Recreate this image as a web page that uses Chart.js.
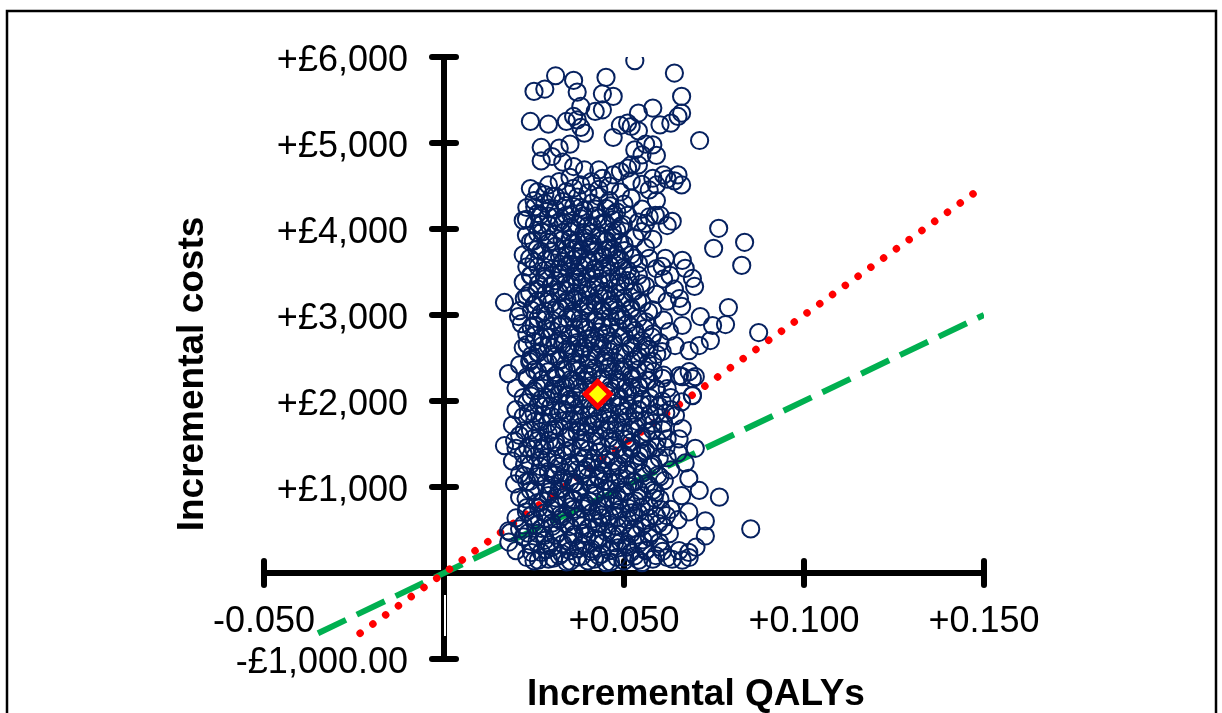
<!DOCTYPE html>
<html>
<head>
<meta charset="utf-8">
<title>Cost-effectiveness plane</title>
<script src="https://cdn.jsdelivr.net/npm/chart.js@4/dist/chart.umd.min.js"></script>
<style>
  html, body { margin: 0; padding: 0; background: #ffffff; }
  #wrap { width: 1222px; height: 713px; position: relative; }
  canvas { display: block; }
</style>
</head>
<body>
<div id="wrap"><canvas id="plane" width="1222" height="713"></canvas></div>
<script>
// Probabilistic sensitivity analysis draws: [incremental QALYs, incremental cost (£)]
const psaSamples = [
  // upper, sparse part of the cloud
  [0.053,5957],[0.064,5813],[0.031,5782],[0.045,5763],[0.036,5728],[0.025,5600],[0.028,5627],[0.037,5592],
  [0.044,5572],[0.066,5542],[0.047,5542],[0.038,5425],[0.042,5367],[0.044,5386],[0.058,5406],[0.054,5348],
  [0.066,5348],[0.065,5309],[0.024,5251],[0.029,5219],[0.034,5251],[0.036,5309],[0.037,5269],[0.038,5181],
  [0.039,5114],[0.049,5204],[0.051,5231],[0.052,5192],[0.054,5141],[0.060,5211],[0.063,5231],[0.047,5064],
  [0.071,5029],[0.027,4948],[0.032,4940],[0.035,4986],[0.053,4920],[0.056,4986],[0.058,4978],[0.055,4862],
  [0.059,4855],[0.027,4792],[0.030,4843],[0.033,4777],[0.036,4726],[0.039,4687],[0.043,4687],[0.052,4745],
  [0.049,4668],
  // £4,400 – £4,750
  [0.026,4435],[0.029,4512],[0.032,4552],[0.034,4435],[0.036,4474],[0.038,4512],[0.041,4552],[0.044,4590],
  [0.047,4629],[0.051,4707],[0.054,4745],[0.058,4590],[0.061,4629],[0.065,4629],[0.066,4512],[0.059,4512],
  [0.057,4454],[0.024,4470],[0.028,4400],[0.031,4380],[0.040,4420],[0.043,4460],[0.046,4500],[0.049,4430],
  [0.052,4560],[0.055,4520],[0.035,4600],[0.062,4580],[0.064,4560],
  // £4,000 – £4,400
  [0.022,4100],[0.023,4250],[0.025,4330],[0.026,4180],[0.027,4050],[0.028,4300],[0.029,4150],[0.030,4380],
  [0.031,4230],[0.032,4080],[0.033,4320],[0.034,4160],[0.035,4020],[0.036,4260],[0.037,4370],[0.038,4120],
  [0.039,4220],[0.040,4040],[0.041,4300],[0.042,4150],[0.043,4380],[0.044,4070],[0.045,4240],[0.046,4330],
  [0.047,4110],[0.048,4200],[0.049,4030],[0.050,4290],[0.051,4160],[0.052,4360],[0.054,4080],[0.055,4230],
  [0.057,4140],[0.059,4330],[0.060,4160],[0.062,4040],[0.0587,4160],[0.0634,4090],[0.056,4066],[0.055,3970],
  // £3,500 – £4,000
  [0.0229,4113],[0.0229,3926],[0.0763,4008],[0.0835,3845],[0.0749,3775],[0.0827,3577],[0.0662,3635],[0.067,3542],
  [0.0615,3658],[0.0606,3565],[0.0628,3460],
  [0.022,3700],[0.023,3560],[0.024,3850],[0.025,3620],[0.026,3950],[0.027,3740],[0.028,3520],[0.029,3880],
  [0.030,3660],[0.031,3800],[0.032,3540],[0.033,3960],[0.034,3700],[0.035,3590],[0.036,3840],[0.037,3500],
  [0.038,3760],[0.039,3900],[0.040,3640],[0.041,3800],[0.042,3540],[0.043,3920],[0.044,3700],[0.045,3860],
  [0.046,3580],[0.047,3760],[0.048,3980],[0.049,3640],[0.050,3820],[0.051,3520],[0.052,3700],[0.053,3900],
  [0.054,3600],[0.056,3780],[0.057,3660],[0.058,3880],[0.059,3540],
  [0.033,3620],[0.035,3880],[0.037,3680],[0.039,3580],[0.041,3950],[0.043,3620],[0.045,3760],[0.047,3900],
  [0.036,3760],[0.040,3850],[0.044,3540],[0.048,3700],
  // £3,000 – £3,500
  [0.0168,3146],[0.0223,3192],[0.0654,3192],[0.069,3425],[0.0696,3332],[0.079,3087],[0.0712,2982],
  [0.021,3050],[0.022,3380],[0.023,3220],[0.024,3460],[0.025,3120],[0.026,3300],[0.027,3020],[0.028,3420],
  [0.029,3180],[0.030,3340],[0.031,3060],[0.032,3260],[0.033,3480],[0.034,3140],[0.035,3360],[0.036,3020],
  [0.037,3220],[0.038,3440],[0.039,3100],[0.040,3300],[0.041,3480],[0.042,3160],[0.043,3380],[0.044,3040],
  [0.045,3240],[0.046,3420],[0.047,3120],[0.048,3320],[0.049,3000],[0.050,3200],[0.051,3400],[0.052,3080],
  [0.053,3280],[0.054,3460],[0.055,3140],[0.056,3340],[0.058,3060],[0.059,3240],[0.061,3420],[0.062,3160],
  [0.064,3300],[0.066,3100],
  [0.031,3400],[0.034,3280],[0.037,3380],[0.040,3120],[0.043,3240],[0.046,3100],[0.049,3380],[0.036,3180],
  // £2,500 – £3,000
  [0.0207,2982],[0.0215,2900],[0.025,2690],[0.0243,2528],[0.0782,2889],[0.0746,2878],[0.0874,2796],[0.074,2703],
  [0.0709,2645],[0.0681,2586],[0.0626,2808],[0.0642,2645],[0.0606,2575],[0.0662,2878],
  [0.022,2620],[0.023,2780],[0.025,2880],[0.026,2560],[0.027,2740],[0.028,2940],[0.029,2640],[0.030,2820],
  [0.031,2520],[0.032,2700],[0.033,2900],[0.034,2600],[0.035,2780],[0.036,2960],[0.037,2680],[0.038,2540],
  [0.039,2860],[0.040,2720],[0.041,2580],[0.042,2940],[0.043,2800],[0.044,2640],[0.045,2520],[0.046,2860],
  [0.047,2700],[0.048,2980],[0.049,2560],[0.050,2760],[0.051,2900],[0.052,2620],[0.053,2820],[0.054,2520],
  [0.055,2700],[0.056,2920],[0.057,2600],[0.058,2780],[0.060,2680],[0.061,2940],
  [0.033,2660],[0.036,2560],[0.039,2620],[0.042,2700],[0.045,2780],[0.038,2900],[0.044,2920],
  // £2,000 – £2,500
  [0.0179,2318],[0.0681,2341],[0.0662,2283],[0.0698,2283],[0.069,2260],[0.0654,2295],[0.069,2062],[0.062,2143],
  [0.020,2150],[0.021,2420],[0.022,2040],[0.023,2280],[0.024,2480],[0.025,2120],[0.026,2340],[0.027,2020],
  [0.028,2200],[0.029,2440],[0.030,2080],[0.031,2300],[0.032,2480],[0.033,2160],[0.034,2360],[0.035,2020],
  [0.036,2240],[0.037,2420],[0.038,2100],[0.039,2320],[0.040,2480],[0.041,2180],[0.042,2380],[0.043,2020],
  [0.044,2260],[0.045,2440],[0.046,2120],[0.047,2340],[0.048,2040],[0.049,2220],[0.050,2400],[0.051,2100],
  [0.052,2300],[0.053,2480],[0.054,2180],[0.055,2020],[0.056,2360],[0.057,2240],[0.058,2460],[0.059,2140],
  [0.061,2300],[0.063,2040],
  [0.031,2180],[0.034,2060],[0.037,2200],[0.040,2300],[0.046,2400],[0.049,2360],[0.052,2160],
  // £1,500 – £2,000
  [0.0168,1480],[0.0196,1538],[0.066,1990],[0.069,2065],
  [0.019,1720],[0.020,1900],[0.021,1600],[0.022,1820],[0.023,1980],[0.024,1660],[0.025,1860],[0.026,1540],
  [0.027,1760],[0.028,1940],[0.029,1620],[0.030,1820],[0.031,1520],[0.032,1700],[0.033,1900],[0.034,1580],
  [0.035,1780],[0.036,1960],[0.037,1640],[0.038,1840],[0.039,1520],[0.040,1720],[0.041,1920],[0.042,1600],
  [0.043,1800],[0.044,1980],[0.045,1660],[0.046,1860],[0.047,1540],[0.048,1740],[0.049,1940],[0.050,1620],
  [0.051,1820],[0.052,1520],[0.053,1700],[0.054,1900],[0.055,1580],[0.056,1780],[0.057,1960],[0.058,1660],
  [0.059,1860],[0.061,1740],[0.062,1560],[0.063,1900],
  [0.0606,2000],[0.0643,1830],[0.0662,1680],[0.0698,1450],[0.0653,1560],
  [0.030,1660],[0.034,1860],[0.038,1700],[0.042,1760],[0.046,1720],[0.050,1880],
  // £1,000 – £1,500
  [0.0196,1037],[0.0223,1130],
  [0.019,1300],[0.020,1450],[0.021,1150],[0.022,1380],[0.023,1060],[0.024,1260],[0.025,1440],[0.026,1120],
  [0.027,1320],[0.028,1480],[0.029,1180],[0.030,1020],[0.031,1360],[0.032,1240],[0.033,1100],[0.034,1420],
  [0.035,1280],[0.036,1040],[0.037,1200],[0.038,1460],[0.039,1340],[0.040,1120],[0.041,1280],[0.042,1020],
  [0.043,1400],[0.044,1180],[0.045,1320],[0.046,1060],[0.047,1480],[0.048,1240],[0.049,1100],[0.050,1380],
  [0.051,1200],[0.052,1440],[0.053,1060],[0.054,1300],[0.055,1160],[0.056,1420],[0.057,1020],[0.058,1260],
  [0.059,1460],[0.060,1120],[0.062,1340],[0.063,1200],[0.065,1400],[0.067,1280],[0.068,1100],
  [0.031,1140],[0.035,1060],[0.039,1200],[0.043,1100],[0.047,1300],[0.051,1020],[0.055,1400],
  // £500 – £1,000
  [0.0179,489],[0.021,513],[0.0229,711],
  [0.020,640],[0.021,880],[0.022,560],[0.023,760],[0.024,960],[0.025,620],[0.026,820],[0.027,520],
  [0.028,700],[0.029,900],[0.030,580],[0.031,780],[0.032,980],[0.033,660],[0.034,860],[0.035,540],
  [0.036,740],[0.037,940],[0.038,620],[0.039,820],[0.040,520],[0.041,700],[0.042,900],[0.043,580],
  [0.044,780],[0.045,980],[0.046,660],[0.047,860],[0.048,540],[0.049,740],[0.050,940],[0.051,620],
  [0.052,820],[0.053,520],[0.054,700],[0.055,900],[0.056,580],[0.057,780],[0.058,960],[0.059,660],
  [0.060,860],[0.061,540],[0.063,740],[0.065,620],[0.066,900],[0.068,710],[0.0709,960],[0.0726,606],
  [0.0765,882],[0.0852,513],
  [0.032,620],[0.036,860],[0.040,780],[0.044,640],[0.048,900],[0.052,700],
  // £100 – £500
  [0.018,360],[0.0184,470],[0.020,260],[0.022,420],[0.023,180],[0.024,330],[0.025,140],[0.026,460],
  [0.027,240],[0.028,380],[0.029,160],[0.030,300],[0.031,440],[0.032,200],[0.033,340],[0.034,130],
  [0.035,260],[0.036,420],[0.037,180],[0.038,320],[0.039,460],[0.040,140],[0.041,280],[0.042,400],
  [0.043,200],[0.044,340],[0.045,120],[0.046,260],[0.047,440],[0.048,180],[0.049,360],[0.050,140],
  [0.051,300],[0.052,460],[0.053,200],[0.054,340],[0.055,120],[0.056,260],[0.057,420],[0.058,160],
  [0.060,300],[0.062,180],[0.0634,160],[0.0653,260],[0.0662,150],[0.068,240],[0.0681,180],[0.070,300],
  [0.0726,430],
  // dense core of the cloud
  [0.0262,150],[0.0304,172],[0.0351,138],[0.0383,194],[0.0418,161],[0.0463,128],[0.0502,183],[0.0541,149],[0.0588,203],
  [0.0243,238],[0.0284,271],[0.0327,226],[0.0372,282],[0.0409,249],[0.0438,218],[0.0483,292],[0.0519,238],[0.0562,268],[0.0607,252],
  [0.0258,362],[0.0293,328],[0.0345,374],[0.0388,338],[0.0428,381],[0.0474,352],[0.0507,326],[0.0553,384],[0.0598,357],
  [0.0233,463],[0.0279,437],[0.0318,472],[0.0362,448],[0.0397,429],[0.0452,474],[0.0486,446],[0.0534,441],[0.0578,468],[0.0626,457],
  [0.0254,557],[0.0301,543],[0.0338,574],[0.0384,548],[0.0423,531],[0.0458,566],[0.0497,561],[0.0549,538],[0.0596,573],
  [0.0241,664],[0.0283,638],[0.0322,672],[0.0368,651],[0.0414,628],[0.0437,673],[0.0482,649],[0.0528,662],[0.0571,637],[0.0618,668],
  [0.0263,756],[0.0298,743],[0.0353,772],[0.0386,748],[0.0427,729],[0.0472,774],[0.0513,753],[0.0548,761],[0.0603,738],
  [0.0228,863],[0.0274,838],[0.0312,872],[0.0357,847],[0.0404,833],[0.0449,868],[0.0487,852],[0.0532,839],[0.0584,871],
  [0.0252,958],[0.0293,943],[0.0328,973],[0.0378,951],[0.0419,927],[0.0463,968],[0.0504,953],[0.0541,962],[0.0587,938],
  [0.0238,1063],[0.0281,1037],[0.0323,1072],[0.0364,1048],[0.0406,1034],[0.0443,1068],[0.0478,1052],[0.0524,1061],[0.0563,1038],[0.0612,1073],
  [0.0261,1158],[0.0302,1143],[0.0337,1167],[0.0384,1153],[0.0428,1128],[0.0467,1172],[0.0508,1147],[0.0552,1161],[0.0594,1139],
  [0.0224,1262],[0.0268,1238],[0.0314,1273],[0.0352,1247],[0.0398,1232],[0.0442,1268],[0.0486,1252],[0.0527,1263],[0.0574,1241],
  [0.0253,1357],[0.0287,1342],[0.0332,1368],[0.0374,1352],[0.0417,1327],[0.0462,1373],[0.0503,1348],[0.0543,1362],[0.0598,1337],
  [0.0232,1458],[0.0273,1443],[0.0311,1472],[0.0356,1447],[0.0402,1433],[0.0437,1468],[0.0483,1452],[0.0522,1461],[0.0568,1438],[0.0617,1462],
  [0.0248,1563],[0.0292,1538],[0.0339,1571],[0.0381,1552],[0.0423,1528],[0.0458,1567],[0.0507,1553],[0.0549,1558],[0.0592,1542],
  [0.0223,1657],[0.0267,1643],[0.0308,1672],[0.0352,1648],[0.0393,1633],[0.0437,1668],[0.0476,1652],[0.0518,1663],[0.0563,1638],[0.0608,1661],
  [0.0252,1762],[0.0288,1737],[0.0331,1768],[0.0373,1753],[0.0412,1728],[0.0458,1772],[0.0497,1748],[0.0537,1762],[0.0581,1743],
  [0.0234,1857],[0.0276,1843],[0.0318,1873],[0.0362,1848],[0.0403,1832],[0.0441,1867],[0.0488,1853],[0.0529,1858],[0.0572,1842],[0.0616,1862],
  [0.0263,1962],[0.0297,1938],[0.0342,1968],[0.0383,1953],[0.0421,1927],[0.0468,1973],[0.0511,1948],[0.0548,1962],[0.0597,1941],
  [0.0242,2058],[0.0284,2043],[0.0321,2072],[0.0363,2047],[0.0398,2033],[0.0452,2068],[0.0487,2052],[0.0528,2063],[0.0572,2038],
  [0.0258,2163],[0.0302,2137],[0.0338,2168],[0.0377,2152],[0.0418,2128],[0.0463,2171],[0.0503,2148],[0.0542,2162],[0.0588,2143],
  [0.0232,2257],[0.0271,2243],[0.0313,2272],[0.0351,2248],[0.0392,2233],[0.0438,2268],[0.0481,2253],[0.0522,2258],[0.0563,2242],[0.0607,2263],
  [0.0251,2362],[0.0289,2338],[0.0332,2368],[0.0372,2352],[0.0413,2327],[0.0454,2373],[0.0498,2348],[0.0538,2362],[0.0582,2341],
  [0.0238,2458],[0.0281,2443],[0.0322,2472],[0.0358,2447],[0.0401,2433],[0.0443,2468],[0.0478,2452],[0.0521,2463],[0.0566,2438],
  [0.0262,2563],[0.0299,2537],[0.0343,2568],[0.0381,2552],[0.0423,2532],[0.0461,2571],[0.0502,2548],[0.0547,2562],[0.0591,2543],
  [0.0231,2657],[0.0273,2643],[0.0308,2672],[0.0352,2648],[0.0388,2628],[0.0432,2668],[0.0471,2653],[0.0518,2661],[0.0562,2638],
  [0.0253,2762],[0.0292,2738],[0.0331,2768],[0.0371,2753],[0.0409,2728],[0.0453,2772],[0.0492,2747],[0.0533,2763],[0.0578,2742],
  [0.0242,2858],[0.0283,2843],[0.0319,2872],[0.0362,2848],[0.0398,2833],[0.0441,2867],[0.0483,2852],[0.0521,2858],[0.0558,2841],
  [0.0261,2963],[0.0302,2937],[0.0341,2968],[0.0378,2952],[0.0422,2928],[0.0461,2971],[0.0498,2948],[0.0539,2962],
  [0.0243,3058],[0.0281,3043],[0.0323,3072],[0.0359,3047],[0.0402,3032],[0.0438,3068],[0.0482,3053],[0.0518,3061],[0.0568,3038],
  [0.0259,3162],[0.0298,3138],[0.0342,3168],[0.0379,3152],[0.0419,3127],[0.0462,3172],[0.0503,3148],[0.0538,3163],
  [0.0238,3257],[0.0282,3243],[0.0318,3273],[0.0361,3248],[0.0397,3232],[0.0443,3268],[0.0478,3252],[0.0523,3262],
  [0.0262,3363],[0.0297,3338],[0.0338,3368],[0.0382,3353],[0.0421,3328],[0.0458,3372],[0.0502,3348],[0.0548,3361],
  [0.0242,3458],[0.0279,3443],[0.0322,3472],[0.0363,3447],[0.0398,3432],[0.0441,3468],[0.0483,3453],[0.0518,3458],
  [0.0261,3562],[0.0302,3538],[0.0339,3568],[0.0378,3553],[0.0418,3528],[0.0462,3571],[0.0497,3548],
  [0.0238,3658],[0.0283,3643],[0.0321,3672],[0.0358,3648],[0.0402,3628],[0.0443,3668],[0.0481,3652],[0.0528,3663],
  [0.0258,3762],[0.0298,3738],[0.0341,3768],[0.0382,3753],[0.0418,3732],[0.0461,3772],[0.0502,3748],
  [0.0248,3858],[0.0291,3842],[0.0328,3872],[0.0372,3847],[0.0412,3833],[0.0452,3868],[0.0489,3852],
  [0.0272,3963],[0.0308,3938],[0.0352,3968],[0.0388,3952],[0.0431,3928],[0.0468,3971],
  [0.0251,4058],[0.0292,4043],[0.0331,4072],[0.0369,4047],[0.0412,4032],[0.0448,4068],[0.0498,4052],
  [0.0268,4162],[0.0311,4138],[0.0352,4168],[0.0388,4152],[0.0428,4128],[0.0472,4171],
  [0.0252,4258],[0.0293,4242],[0.0338,4272],[0.0378,4248],[0.0421,4232],[0.0462,4268]
];

// Mean incremental QALYs and cost
const meanPoint = [0.0427, 2080];

// Willingness-to-pay threshold lines (£20,000 and £30,000 per QALY), end points
const wtp20kLine = [[-0.035, -700], [0.15, 3000]];
const wtp30kLine = [[-0.0233, -700], [0.15, 4500]];

// Axis ticks and their labels
const xTickValues = [-0.05, 0.05, 0.10, 0.15];
const xTickLabels = ['-0.050', '+0.050', '+0.100', '+0.150'];
const yTickValues = [-1000, 1000, 2000, 3000, 4000, 5000, 6000];
const yTickLabels = ['-£1,000.00', '+£1,000', '+£2,000', '+£3,000', '+£4,000', '+£5,000', '+£6,000'];
const yMarkValues = [-1000, 0, 1000, 2000, 3000, 4000, 5000, 6000];
const xMarkValues = [-0.05, 0, 0.05, 0.10, 0.15];

const xTitle = 'Incremental QALYs';
const yTitle = 'Incremental costs';

const FONT = "'Liberation Sans', Arial, Helvetica, sans-serif";

const toXY = pairs => pairs.map(p => ({ x: p[0], y: p[1] }));

// Cross-hair axes through the origin, frame, tick labels and titles
const planeAxes = {
  id: 'planeAxes',
  beforeDatasetsDraw(chart) {
    const ctx = chart.ctx;
    const xs = chart.scales.x, ys = chart.scales.y;
    const x0 = xs.getPixelForValue(0), y0 = ys.getPixelForValue(0);
    ctx.save();

    // outer frame
    ctx.strokeStyle = '#000';
    ctx.lineWidth = 2.5;
    ctx.strokeRect(7, 11, 1209, 730);

    ctx.lineCap = 'round';
    ctx.lineWidth = 6;
    // vertical axis
    ctx.beginPath();
    ctx.moveTo(x0, ys.getPixelForValue(6000));
    ctx.lineTo(x0, ys.getPixelForValue(-1000));
    ctx.stroke();
    // horizontal axis
    ctx.beginPath();
    ctx.moveTo(xs.getPixelForValue(-0.05), y0);
    ctx.lineTo(xs.getPixelForValue(0.15), y0);
    ctx.stroke();

    // cross tick marks
    yMarkValues.forEach(v => {
      if (v === 0) return;
      const py = ys.getPixelForValue(v);
      ctx.beginPath();
      ctx.moveTo(x0 - 12, py);
      ctx.lineTo(x0 + 12, py);
      ctx.stroke();
    });
    xMarkValues.forEach(v => {
      if (v === 0) return;
      const px = xs.getPixelForValue(v);
      ctx.beginPath();
      ctx.moveTo(px, y0 - 12);
      ctx.lineTo(px, y0 + 12);
      ctx.stroke();
    });

    // thin light seam in the lower part of the vertical axis
    ctx.lineCap = 'butt';
    ctx.strokeStyle = '#ffffff';
    ctx.lineWidth = 2;
    ctx.beginPath();
    ctx.moveTo(x0 + 1, y0 + 22);
    ctx.lineTo(x0 + 1, y0 + 63);
    ctx.stroke();

    // tick labels
    ctx.fillStyle = '#000';
    ctx.font = '36px ' + FONT;
    ctx.textAlign = 'right';
    ctx.textBaseline = 'alphabetic';
    yTickValues.forEach((v, i) => {
      ctx.fillText(yTickLabels[i], 408, ys.getPixelForValue(v) + 14);
    });
    ctx.textAlign = 'center';
    xTickValues.forEach((v, i) => {
      ctx.fillText(xTickLabels[i], xs.getPixelForValue(v), 632);
    });

    // axis titles
    ctx.font = 'bold 37px ' + FONT;
    ctx.textAlign = 'left';
    ctx.fillText(xTitle, 527, 705);
    ctx.save();
    ctx.translate(203, 374);
    ctx.rotate(-Math.PI / 2);
    ctx.textAlign = 'center';
    ctx.fillText(yTitle, 0, 0);
    ctx.restore();

    ctx.restore();
  }
};

new Chart(document.getElementById('plane'), {
  type: 'scatter',
  data: {
    datasets: [
      {
        label: 'Mean',
        data: toXY([meanPoint]),
        pointStyle: 'rectRot',
        pointRadius: 12.5,
        pointBorderWidth: 5,
        pointBorderColor: '#ff0000',
        pointBackgroundColor: '#ffff00',
        order: 0
      },
      {
        label: 'Simulations',
        data: toXY(psaSamples),
        pointStyle: 'circle',
        pointRadius: 8.6,
        pointBorderWidth: 2,
        pointBorderColor: '#06215f',
        pointBackgroundColor: 'rgba(0,0,0,0)',
        order: 1
      },
      {
        label: '£30,000 per QALY',
        data: toXY(wtp30kLine),
        showLine: true,
        pointRadius: 0,
        borderColor: '#ff0000',
        borderWidth: 7.5,
        borderCapStyle: 'round',
        borderDash: [0.01, 15.7],
        order: 2
      },
      {
        label: '£20,000 per QALY',
        data: toXY(wtp20kLine),
        showLine: true,
        pointRadius: 0,
        borderColor: '#00b050',
        borderWidth: 6,
        borderCapStyle: 'butt',
        borderDash: [31, 12],
        order: 3
      }
    ]
  },
  options: {
    responsive: false,
    animation: false,
    devicePixelRatio: 1,
    layout: { padding: { left: 264, right: 238, top: 57, bottom: 54 } },
    plugins: { legend: { display: false }, tooltip: { enabled: false } },
    scales: {
      x: { type: 'linear', min: -0.05, max: 0.15, display: false },
      y: { type: 'linear', min: -1000, max: 6000, display: false }
    }
  },
  plugins: [planeAxes]
});
</script>
</body>
</html>
